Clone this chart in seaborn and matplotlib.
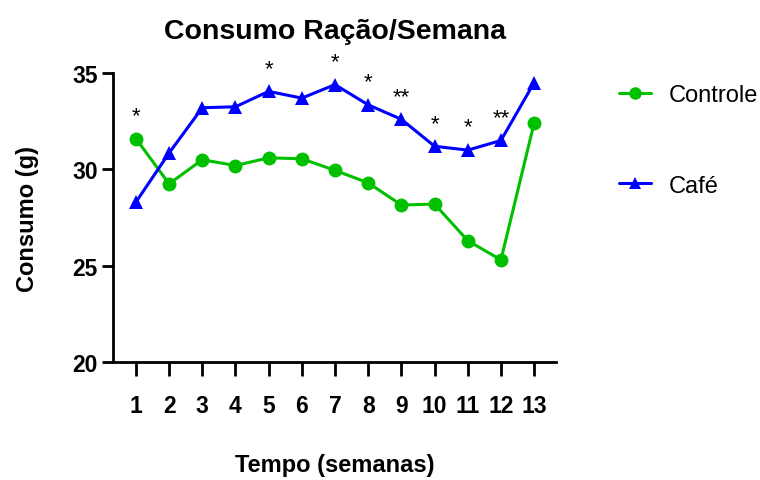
import pandas as pd
import matplotlib.pyplot as plt
import seaborn as sns

# Weekly feed consumption (g)
semanas = list(range(1, 14))
controle = [31.6, 29.25, 30.5, 30.2, 30.6, 30.55, 29.95, 29.3, 28.15, 28.2, 26.3, 25.3, 32.4]
cafe = [28.3, 30.85, 33.2, 33.25, 34.05, 33.7, 34.4, 33.35, 32.6, 31.2, 31.0, 31.5, 34.5]

# Significance marks above the weeks
sig_semanas = [1, 5, 7, 8, 9, 10, 11, 12]
sig_labels = ["*", "*", "*", "*", "**", "*", "*", "**"]

df = pd.DataFrame({
    "Tempo": semanas * 2,
    "Consumo": controle + cafe,
    "Grupo": ["Controle"] * len(semanas) + ["Café"] * len(semanas),
})

sns.set_style("ticks")
plt.rcParams["font.family"] = ["Liberation Sans", "DejaVu Sans"]
for key in ["text.color", "axes.labelcolor", "xtick.color", "ytick.color", "axes.edgecolor"]:
    plt.rcParams[key] = "black"

fig = plt.figure(figsize=(7.6, 4.81), dpi=100)
ax = fig.add_axes([0.1487, 0.2453, 0.7316 - 0.1487, 0.846 - 0.2453])

sns.lineplot(data=df, x="Tempo", y="Consumo", hue="Grupo", style="Grupo",
             palette={"Controle": "#00C000", "Café": "#0000FF"},
             markers={"Controle": "o", "Café": "^"}, dashes=False,
             markersize=10, markeredgewidth=0, linewidth=2.2, ax=ax)

for sem, lab in zip(sig_semanas, sig_labels):
    top = max(controle[sem - 1], cafe[sem - 1])
    ax.annotate(lab, (sem, top), xytext=(0, 9), textcoords="offset points",
                ha="center", va="bottom", fontsize=16)

ax.set_xlim(0.31, 13.66)
ax.set_ylim(20, 35)
ax.set_xticks(semanas)
ax.set_yticks([20, 25, 30, 35])
ax.tick_params(axis="x", length=10, width=2, pad=13, labelsize=16.5)
ax.tick_params(axis="y", length=8, width=2, pad=3, labelsize=16.5)
for t in ax.get_xticklabels() + ax.get_yticklabels():
    t.set_fontweight("bold")
for s in ["left", "bottom"]:
    ax.spines[s].set_linewidth(2)
sns.despine(ax=ax)

ax.set_title("Consumo Ração/Semana", fontsize=20.5, fontweight="bold", pad=25)
ax.set_xlabel("Tempo (semanas)", fontsize=17, fontweight="bold", labelpad=26)
ax.set_ylabel("Consumo (g)", fontsize=17, fontweight="bold", labelpad=24)

handles, labels = ax.get_legend_handles_labels()
ax.legend(handles, labels, loc="upper left", bbox_to_anchor=(1.142, 0.962),
          frameon=False, fontsize=17, labelspacing=2.9, handlelength=1.35,
          handletextpad=0.76, borderpad=0, borderaxespad=0, markerscale=0.9)

fig.savefig("out.png", dpi=100)
